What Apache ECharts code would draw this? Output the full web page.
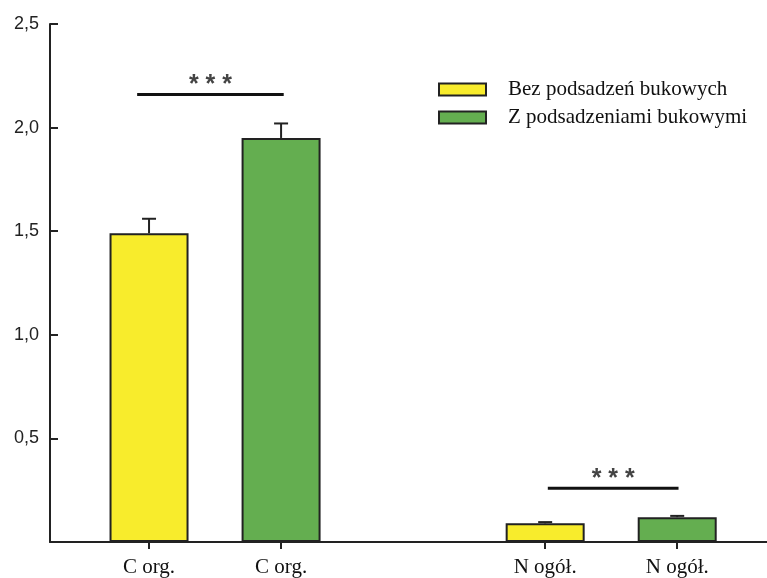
<!DOCTYPE html>
<html><head><meta charset="utf-8">
<script src="https://cdn.jsdelivr.net/npm/echarts@6/dist/echarts.min.js"></script>
<style>html,body{margin:0;padding:0;background:#fff}#c{width:767px;height:578px}</style>
</head><body><div id="c"></div>
<script>
const categories = ['C org.', 'C org.', 'N ogół.', 'N ogół.'];
const slots = [0, 1, 3, 4];
const groupSlots = [0, 3];
const seriesNames = ['Bez podsadzeń bukowych', 'Z podsadzeniami bukowymi'];
const yellowVals = [1.49, 0.09];
const greenVals = [1.95, 0.12];
const yellowErr = [0.07, 0.006];
const greenErr = [0.07, 0.006];
const sigLines = [[-0.09, 1.02, 2.16], [3.02, 4.01, 0.26]];
const sigLabel = '* * *';

const yellowData = groupSlots.map((s, i) => [s, yellowVals[i]]);
const greenData = groupSlots.map((s, i) => [s + 1, greenVals[i]]);
const errData = groupSlots.map((s, i) => [s, yellowVals[i], yellowErr[i]])
  .concat(groupSlots.map((s, i) => [s + 1, greenVals[i], greenErr[i]]));

const chart = echarts.init(document.getElementById('c'));
chart.setOption({
  backgroundColor: '#fff',
  animation: false,
  grid: { left: 50, right: 0, top: 24, bottom: 36 },
  legend: {
    data: seriesNames,
    orient: 'vertical',
    left: 438, top: 79, padding: 0,
    icon: 'rect',
    itemWidth: 47, itemHeight: 12, itemGap: 7,
    textStyle: { fontFamily: 'Liberation Serif', fontSize: 21, color: '#111', lineHeight: 20, padding: [0, 0, 0, 17] }
  },
  xAxis: {
    type: 'value', min: -0.75, max: 4.68,
    splitLine: { show: false },
    axisLine: { show: true, onZero: false, lineStyle: { color: '#222', width: 2 } },
    axisTick: { show: true, customValues: slots, length: 7, lineStyle: { color: '#222', width: 2 } },
    axisLabel: {
      customValues: slots, margin: 15,
      fontFamily: 'Liberation Serif', fontSize: 21, color: '#111',
      formatter: v => categories[slots.indexOf(v)] || ''
    }
  },
  yAxis: {
    type: 'value', min: 0, max: 2.5, interval: 0.5,
    splitLine: { show: false },
    axisLine: { show: true, onZero: false, lineStyle: { color: '#222', width: 2 } },
    axisTick: { show: true, inside: true, length: 8, lineStyle: { color: '#222', width: 2 } },
    axisLabel: {
      margin: 11, fontFamily: 'Liberation Sans', fontSize: 18, color: '#222',
      formatter: v => v === 0 ? '' : v.toFixed(1).replace('.', ',')
    }
  },
  series: [
    { name: seriesNames[0], type: 'bar', data: yellowData, barWidth: 79,
      itemStyle: { color: '#F8EC2C', borderColor: '#222', borderWidth: 2 } },
    { name: seriesNames[1], type: 'bar', data: greenData, barWidth: 79, barGap: '-100%',
      itemStyle: { color: '#64AE50', borderColor: '#222', borderWidth: 2 } },
    { type: 'custom', data: errData, z: 5,
      renderItem: (params, api) => {
        const x = api.value(0), v = api.value(1), e = api.value(2);
        const p0 = api.coord([x, v]);
        const p1 = api.coord([x, v + e]);
        return { type: 'group', children: [
          { type: 'line', shape: { x1: p0[0], y1: p0[1], x2: p1[0], y2: p1[1] }, style: { stroke: '#222', lineWidth: 2 } },
          { type: 'line', shape: { x1: p1[0] - 7, y1: p1[1], x2: p1[0] + 7, y2: p1[1] }, style: { stroke: '#222', lineWidth: 2 } }
        ] };
      } },
    { type: 'custom', data: sigLines, z: 5,
      renderItem: (params, api) => {
        const a = api.coord([api.value(0), api.value(2)]);
        const b = api.coord([api.value(1), api.value(2)]);
        return { type: 'group', children: [
          { type: 'line', shape: { x1: a[0], y1: a[1], x2: b[0], y2: b[1] }, style: { stroke: '#111', lineWidth: 3 } },
          { type: 'text', style: { text: sigLabel, x: (a[0] + b[0]) / 2, y: a[1] + 3, align: 'center', verticalAlign: 'bottom',
            font: 'bold 25px "Liberation Sans"', fill: '#444' } }
        ] };
      } }
  ]
});
</script></body></html>
